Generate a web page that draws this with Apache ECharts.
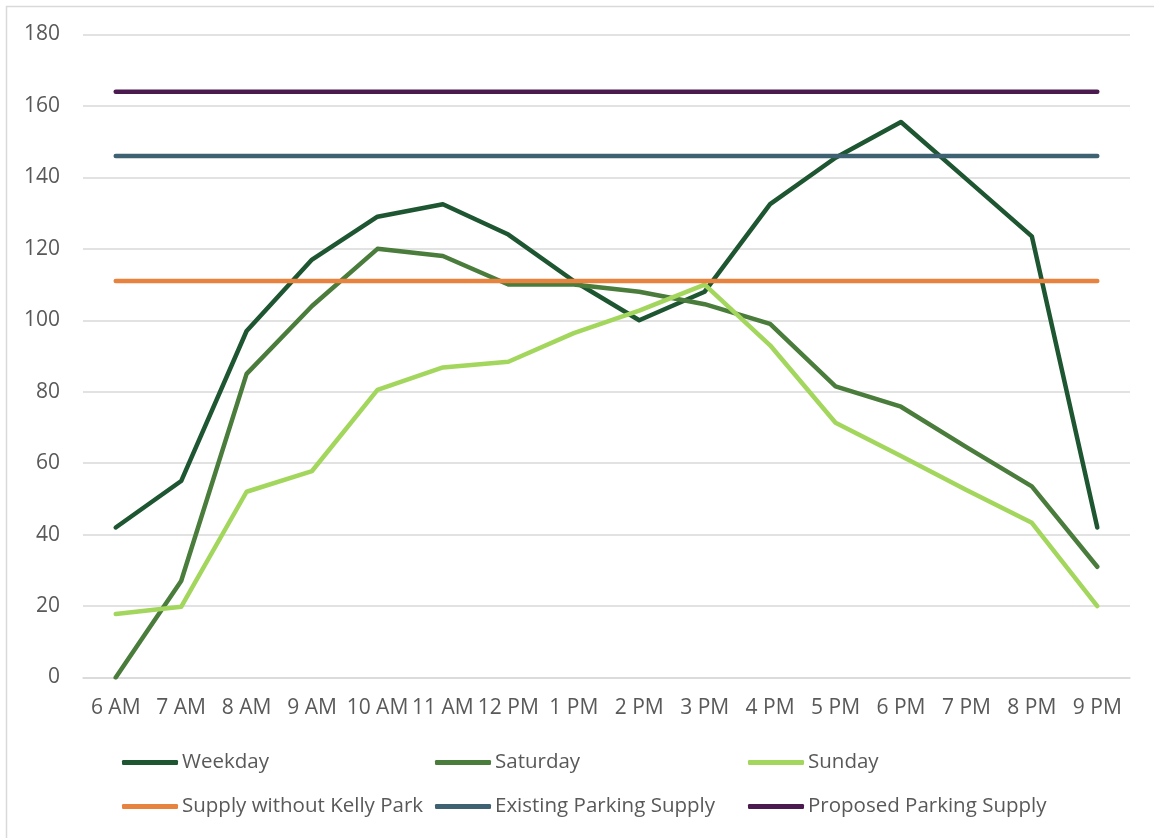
<!DOCTYPE html>
<html>
<head>
<meta charset="utf-8">
<script src="https://cdn.jsdelivr.net/npm/echarts@6/dist/echarts.min.js"></script>
<style>
  html, body { margin: 0; padding: 0; background: #fff; }
  #chart { width: 1154px; height: 838px; }
</style>
</head>
<body>
<div id="chart"></div>
<script>
// Hourly parking occupancy vs. supply
const hours = ['6 AM', '7 AM', '8 AM', '9 AM', '10 AM', '11 AM', '12 PM', '1 PM',
               '2 PM', '3 PM', '4 PM', '5 PM', '6 PM', '7 PM', '8 PM', '9 PM'];

const weekday  = [42, 55, 97, 117, 129, 132.5, 124, 111, 100, 108, 132.5, 145.5, 155.5, 139.5, 123.5, 42];
const saturday = [0, 27, 85, 104, 120, 118, 110, 110, 108, 104.5, 99, 81.5, 75.8, 64.5, 53.5, 31];
const sunday   = [17.8, 19.8, 52, 57.8, 80.5, 86.8, 88.4, 96.4, 102.7, 110, 93, 71.3, 62, 52.5, 43.3, 20];

const supplyWithoutKellyPark = 111;
const existingParkingSupply  = 146;
const proposedParkingSupply  = 164;

const yTicks = { min: 0, max: 180, interval: 20 };

const seriesDefs = [
  { name: 'Weekday', data: weekday, color: '#1E5631' },
  { name: 'Saturday', data: saturday, color: '#4A7C3B' },
  { name: 'Sunday', data: sunday, color: '#A3D65C' },
  { name: 'Supply without Kelly Park', data: hours.map(() => supplyWithoutKellyPark), color: '#E8823F' },
  { name: 'Existing Parking Supply', data: hours.map(() => existingParkingSupply), color: '#3F6272' },
  { name: 'Proposed Parking Supply', data: hours.map(() => proposedParkingSupply), color: '#4B1A4F' }
];

const FONT = '"Open Sans", "Noto Sans", sans-serif';
const TEXT = '#595959';
const GRID = '#D9D9D9';

// one legend block per entry so the entries line up in three columns
const legendSlots = [
  { left: 122, top: 752 }, { left: 435, top: 752 }, { left: 748, top: 752 },
  { left: 122, top: 796 }, { left: 435, top: 796 }, { left: 748, top: 796 }
];

const chart = echarts.init(document.getElementById('chart'), null, { renderer: 'canvas' });

chart.setOption({
  backgroundColor: '#fff',
  animation: false,
  graphic: [{
    type: 'rect',
    shape: { x: 6.5, y: 6.5, width: 1300, height: 1000 },
    style: { fill: 'none', stroke: GRID, lineWidth: 1.5 },
    silent: true
  }],
  grid: { left: 83, right: 24, top: 34.5, bottom: 160.5, containLabel: false },
  xAxis: {
    type: 'category',
    data: hours,
    boundaryGap: true,
    axisLine: { show: true, lineStyle: { color: GRID, width: 1.5 } },
    axisTick: { show: false },
    axisLabel: { interval: 0, color: TEXT, fontFamily: FONT, fontSize: 21, margin: 20 }
  },
  yAxis: {
    type: 'value',
    min: yTicks.min, max: yTicks.max, interval: yTicks.interval,
    axisLine: { show: false },
    axisTick: { show: false },
    splitLine: { lineStyle: { color: GRID, width: 1.5 } },
    axisLabel: { color: TEXT, fontFamily: FONT, fontSize: 21, margin: 23 }
  },
  legend: seriesDefs.map((s, i) => ({
    data: [s.name],
    left: legendSlots[i].left,
    top: legendSlots[i].top,
    itemWidth: 56,
    itemHeight: 5,
    itemGap: 0,
    padding: 0,
    icon: 'roundRect',
    textStyle: { color: TEXT, fontFamily: FONT, fontSize: 20.5, padding: [0, 0, 0, -1] }
  })),
  series: seriesDefs.map(s => ({
    name: s.name,
    type: 'line',
    data: s.data,
    symbol: 'none',
    smooth: false,
    color: s.color,
    lineStyle: { color: s.color, width: 4.5, cap: 'round', join: 'round' },
    itemStyle: { color: s.color }
  }))
});
</script>
</body>
</html>
